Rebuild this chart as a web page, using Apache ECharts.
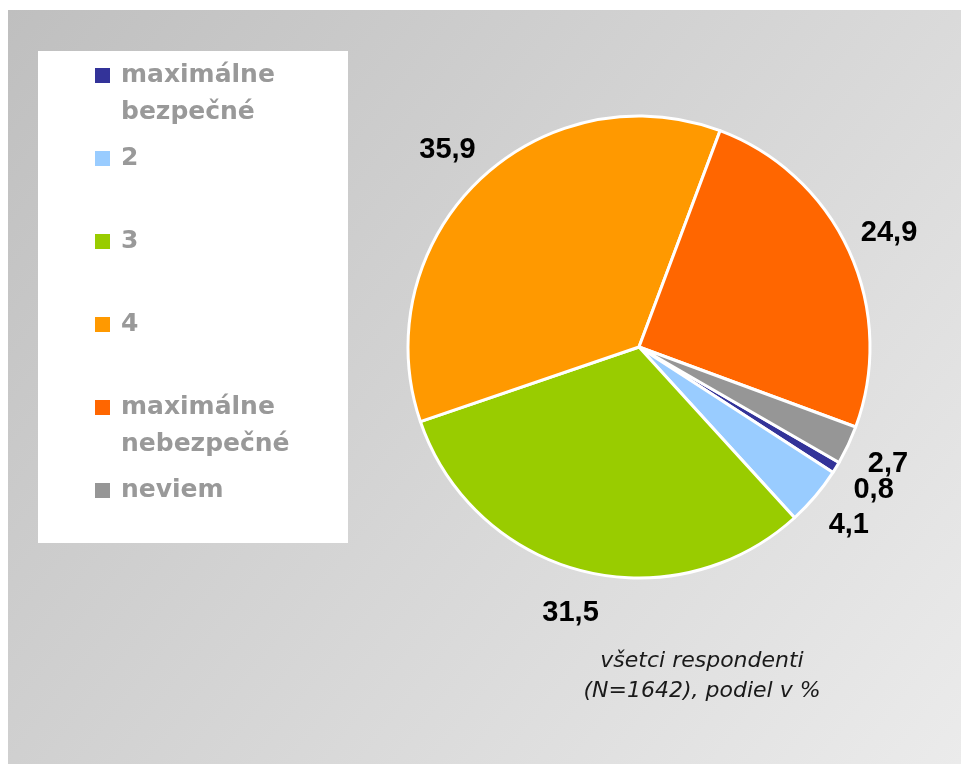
<!DOCTYPE html>
<html>
<head>
<meta charset="utf-8">
<script src="https://cdn.jsdelivr.net/npm/echarts@6/dist/echarts.min.js"></script>
<style>
    html, body { margin: 0; padding: 0; background: #fff; }
    #chart { width: 961px; height: 764px; }
</style>
</head>
<body>
<div id="chart"></div>
<script>
// categories in drawing order (clockwise from the navy slice)
const categories = ['maximálne\nbezpečné', '2', '3', '4', 'maximálne\nnebezpečné', 'neviem'];
const shares = [0.8, 4.1, 31.5, 35.9, 24.9, 2.7];
const colors = ['#333399', '#99ccff', '#99cc00', '#ff9900', '#ff6600', '#969696'];
const captionLines = ['všetci respondenti', '(N=1642), podiel v %'];

const pieData = categories.map((name, i) => ({
    name,
    value: shares[i],
    itemStyle: { color: colors[i] },
}));

const myChart = echarts.init(document.getElementById('chart'));

const option = {
    backgroundColor: '#ffffff',
    animation: false,
    graphic: [
        {
            type: 'rect',
            z: -10,
            shape: { x: 8, y: 10, width: 953, height: 754 },
            style: {
                fill: new echarts.graphic.LinearGradient(0, 0, 1, 1, [
                    { offset: 0, color: '#bfbfbf' },
                    { offset: 1, color: '#ebebeb' },
                ]),
            },
            silent: true,
        },
        {
            type: 'rect',
            z: -5,
            shape: { x: 38, y: 51, width: 310, height: 492 },
            style: { fill: '#ffffff' },
            silent: true,
        },
        {
            type: 'text',
            x: 702,
            y: 646,
            style: {
                text: captionLines.join('\n'),
                textAlign: 'center',
                fontFamily: 'DejaVu Sans',
                fontStyle: 'italic',
                fontSize: 22,
                lineHeight: 30,
                fill: '#1a1a1a',
            },
        },
    ],
    legend: {
        orient: 'vertical',
        left: 95,
        top: 20,
        padding: 0,
        itemGap: -28,
        itemWidth: 15,
        itemHeight: 15,
        icon: 'rect',
        selectedMode: false,
        itemStyle: { borderWidth: 0 },
        data: categories,
        formatter: name => (name.indexOf('\n') >= 0 ? ' \n' + name : ' \n' + name + '\n '),
        textStyle: {
            fontFamily: 'DejaVu Sans',
            fontWeight: 'bold',
            fontSize: 25,
            lineHeight: 37,
            color: '#999999',
            padding: [0, 0, 0, 6],
        },
    },
    series: [
        {
            name: 'podiel',
            type: 'pie',
            center: [639, 347],
            radius: 231,
            startAngle: -30,
            clockwise: true,
            silent: true,
            label: { show: false },
            labelLine: { show: false },
            itemStyle: {
                borderColor: '#ffffff',
                borderWidth: 3,
            },
            data: pieData,
        },
        {
            // transparent ring only used to place the value labels outside the pie
            name: 'labels',
            type: 'pie',
            center: [639, 347],
            radius: 544,
            startAngle: -30,
            clockwise: true,
            silent: true,
            avoidLabelOverlap: false,
            labelLayout: { hideOverlap: false },
            itemStyle: { color: 'rgba(0,0,0,0)' },
            label: {
                show: true,
                position: 'inside',
                formatter: p => String(p.value).replace('.', ','),
                fontFamily: 'Liberation Sans',
                fontWeight: 'bold',
                fontSize: 29,
                color: '#000000',
            },
            labelLine: { show: false },
            data: shares.map((v, i) => ({ name: categories[i], value: v })),
        },
    ],
};

myChart.setOption(option);
</script>
</body>
</html>
